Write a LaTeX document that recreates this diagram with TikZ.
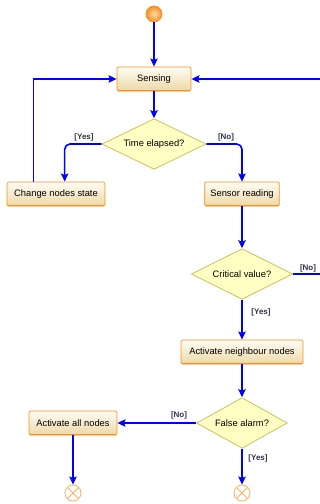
\documentclass[tikz,border=0pt]{standalone}
\usepackage{fontspec}
\setmainfont{Liberation Sans}
\usetikzlibrary{shapes.geometric,arrows.meta}

\definecolor{boxtop}{HTML}{FFFCF4}
\definecolor{boxbot}{HTML}{EDD8A6}
\definecolor{boxline}{HTML}{F5921E}
\definecolor{decfill}{HTML}{FFFFC4}
\definecolor{decline}{HTML}{C9C25E}
\definecolor{flowblue}{HTML}{0000FF}
\definecolor{guardtext}{HTML}{30304A}

\begin{document}
\begin{tikzpicture}[x=0.75pt, y=-0.75pt,
    font=\fontsize{7}{8}\selectfont,
    activity/.style={rectangle, draw=boxline, line width=0.6pt, rounded corners=1pt,
        top color=boxtop, bottom color=boxbot, minimum height=18pt, inner sep=1pt,
        path picture={\draw[boxline, line width=2.2pt]
            (path picture bounding box.south west) -- (path picture bounding box.south east);}},
    decision/.style={diamond, draw=decline, line width=0.6pt, fill=decfill,
        shape aspect=2, inner sep=0pt},
    initial/.style={circle, minimum size=12pt, inner sep=0pt, draw=boxline, line width=0.6pt,
        inner color=boxline!35!white, outer color=boxline},
    final/.style={circle, minimum size=12pt, inner sep=0pt, draw=boxline!70, line width=0.6pt,
        fill=white,
        path picture={\draw[boxline!70, line width=0.6pt]
            (path picture bounding box.north west) -- (path picture bounding box.south east)
            (path picture bounding box.north east) -- (path picture bounding box.south west);}},
    flow/.style={draw=flowblue, line width=1.2pt, -{Stealth[length=6pt,width=5.5pt,inset=1pt]}},
    guard/.style={font=\fontsize{6}{7}\selectfont\bfseries, text=guardtext, inner sep=0pt}]

    \useasboundingbox (0,0) rectangle (320,504);

    % nodes
    \node[initial] (start) at (154,14) {};
    \node[activity, minimum width=55.5pt] (sensing) at (154,79) {Sensing};
    \node[decision, minimum width=78pt, minimum height=38pt] (time) at (154,144) {Time elapsed?};
    \node[activity, minimum width=73.5pt] (change) at (56,194) {Change nodes state};
    \node[activity, minimum width=56pt] (sensor) at (242,194) {Sensor reading};
    \node[decision, minimum width=76pt, minimum height=38pt] (crit) at (242,274) {Critical value?};
    \node[activity, minimum width=91.5pt] (neighbour) at (242,352) {Activate neighbour nodes};
    \node[decision, minimum width=68pt, minimum height=38pt] (alarm) at (242,423) {False alarm?};
    \node[activity, minimum width=66pt] (allnodes) at (73,423) {Activate all nodes};
    \node[final] (endA) at (73,493) {};
    \node[final] (endB) at (242,493) {};

    \coordinate (loopR) at (326,274);

    % flows
    \draw[flow] (start) -- (sensing);
    \draw[flow] (sensing) -- (time);
    \draw[flow, rounded corners=4pt] (time.west) -| ([xshift=6.5pt]change.north);
    \draw[flow, rounded corners=4pt] (time.east) -| (sensor.north);
    \draw[flow] ([xshift=-17pt]change.north) |- (sensing.west);
    \draw[flow] (sensor) -- (crit);
    \draw[flow] (crit.east) -- (loopR) |- (sensing.east);
    \draw[flow] (crit) -- (neighbour);
    \draw[flow] (neighbour) -- (alarm);
    \draw[flow] (alarm.west) -- (allnodes.east);
    \draw[flow] (alarm) -- (endB);
    \draw[flow] (allnodes) -- (endA);

    % guards
    \node[guard] (yesT) at (84,137) {[Yes]};
    \node[guard] (noT) at (226,137) {[No]};
    \node[guard] (noC) at (308,268) {[No]};
    \node[guard] (yesC) at (261,312) {[Yes]};
    \node[guard] (noA) at (179,415) {[No]};
    \node[guard] (yesA) at (258,458) {[Yes]};
\end{tikzpicture}
\end{document}
